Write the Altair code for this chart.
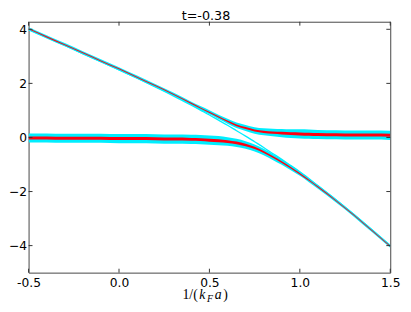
import altair as alt
import pandas as pd

# ---- data ----
x_vals = [-0.5, -0.4, -0.3, -0.2, -0.1, 0.0, 0.1, 0.2, 0.3, 0.4, 0.45, 0.5, 0.55, 0.6,
          0.65, 0.7, 0.75, 0.8, 0.85, 0.9, 0.95, 1.0, 1.05, 1.1, 1.2, 1.3, 1.4, 1.5]
diabatic = [4.00, 3.70, 3.40, 3.10, 2.80, 2.50, 2.19, 1.87, 1.54, 1.19, 1.01, 0.83, 0.64, 0.45,
            0.25, 0.05, -0.16, -0.37, -0.59, -0.81, -1.04, -1.27, -1.52, -1.78, -2.30, -2.85, -3.42, -4.00]
lower = [-0.02, -0.02, -0.03, -0.03, -0.03, -0.04, -0.04, -0.05, -0.06, -0.07, -0.08, -0.10, -0.12, -0.15,
         -0.20, -0.28, -0.39, -0.54, -0.72, -0.91, -1.12, -1.34, -1.58, -1.83, -2.34, -2.88, -3.45, -4.02]
upper = [4.02, 3.72, 3.43, 3.13, 2.83, 2.54, 2.23, 1.92, 1.60, 1.26, 1.09, 0.93, 0.76, 0.60,
         0.45, 0.35, 0.26, 0.21, 0.18, 0.16, 0.14, 0.13, 0.12, 0.11, 0.10, 0.09, 0.09, 0.08]
spread_lower = [0.17, 0.17, 0.17, 0.17, 0.17, 0.17, 0.17, 0.17, 0.17, 0.17, 0.17, 0.17, 0.17, 0.16,
                0.15, 0.14, 0.13, 0.12, 0.11, 0.10, 0.09, 0.08, 0.075, 0.07, 0.065, 0.06, 0.06, 0.06]
spread_upper = [0.06, 0.06, 0.06, 0.06, 0.06, 0.06, 0.06, 0.06, 0.06, 0.065, 0.07, 0.075, 0.08, 0.09,
                0.10, 0.11, 0.12, 0.13, 0.14, 0.15, 0.16, 0.17, 0.17, 0.17, 0.17, 0.17, 0.17, 0.17]
x_ticks = [-0.5, 0.0, 0.5, 1.0, 1.5]
y_ticks = [-4, -2, 0, 2, 4]
title_text = "t=-0.38"

rows = []
for i, xv in enumerate(x_vals):
    for name, e, s in (("lower", lower[i], spread_lower[i]), ("upper", upper[i], spread_upper[i])):
        rows.append(dict(x=xv, branch=name, e=e, lo=e - s, hi=e + s,
                         rlo=e - 0.32 * s, rhi=e + 0.32 * s))
df = pd.DataFrame(rows)
dia = pd.DataFrame({"x": x_vals, "e": diabatic})
xt = pd.DataFrame({"v": x_ticks})
yt = pd.DataFrame({"v": y_ticks})
one = pd.DataFrame({"k": [0]})

W, H = 369, 256
LEFT, TOP = 29, 19          # page position of the plot area
CYAN = "#00eeff"
RED = "#ff0010"
FONT = "DejaVu Sans"

xs = alt.Scale(domain=[-0.5, 1.5], nice=False, zero=False)
ys = alt.Scale(domain=[-5, 4.28], nice=False, zero=False)

xaxis = alt.Axis(values=x_ticks, ticks=False, domain=False, grid=False, title=None,
                 labelPadding=4, labelFontSize=12.5, labelFont=FONT, labelColor="black",
                 labelOverlap=False, labelFlush=False,
                 labelExpr="datum.value < 0 ? '-' + format(-datum.value, '.1f') : format(datum.value, '.1f')")
yaxis = alt.Axis(values=y_ticks, ticks=False, domain=False, grid=False, title=None,
                 labelPadding=2, labelFontSize=12.5, labelFont=FONT, labelColor="black",
                 labelOverlap=False,
                 labelExpr="datum.value < 0 ? '\u2212' + format(-datum.value, 'd') : format(datum.value, 'd')")

base = alt.Chart(df)
cyan_band = base.mark_area(color=CYAN, interpolate="monotone", clip=True).encode(
    x=alt.X("x:Q", scale=xs, axis=xaxis),
    y=alt.Y("lo:Q", scale=ys, axis=yaxis),
    y2="hi:Q",
    detail="branch:N",
)
dia_line = alt.Chart(dia).mark_line(color=CYAN, strokeWidth=1.3, interpolate="monotone", clip=True).encode(
    x=alt.X("x:Q", scale=xs), y=alt.Y("e:Q", scale=ys)
)
red_band = base.mark_area(color=RED, interpolate="monotone", clip=True).encode(
    x=alt.X("x:Q", scale=xs), y=alt.Y("rlo:Q", scale=ys), y2="rhi:Q", detail="branch:N"
)

tick_color = "#333333"
xt_bot = alt.Chart(xt).mark_rule(color=tick_color, strokeWidth=1).encode(
    x=alt.X("v:Q", scale=xs), y=alt.value(H), y2=alt.value(H - 4))
xt_top = alt.Chart(xt).mark_rule(color=tick_color, strokeWidth=1).encode(
    x=alt.X("v:Q", scale=xs), y=alt.value(0), y2=alt.value(4))
yt_left = alt.Chart(yt).mark_rule(color=tick_color, strokeWidth=1).encode(
    y=alt.Y("v:Q", scale=ys), x=alt.value(0), x2=alt.value(4))
yt_right = alt.Chart(yt).mark_rule(color=tick_color, strokeWidth=1).encode(
    y=alt.Y("v:Q", scale=ys), x=alt.value(W - 4), x2=alt.value(W))

SERIF = "Liberation Serif"
def piece(txt, page_x, page_y, size=14, style="normal", font=SERIF, align="left"):
    return alt.Chart(one).mark_text(text=txt, font=font, fontSize=size, fontStyle=style,
                                    align=align, baseline="alphabetic", color="black").encode(
        x=alt.value(page_x - LEFT), y=alt.value(page_y - TOP))

# x-axis label 1/(k_F a) built from pieces, and the title
LY = 301.5
label = (piece("1/(", 186.0, LY) + piece("k", 203.0, LY, style="italic")
         + piece("F", 211.0, LY + 3, size=10, style="italic")
         + piece("a", 219.0, LY, style="italic") + piece(")", 227.5, LY))
title = piece(title_text, 210, 17.5, size=13, font=FONT, align="center")

chart = alt.layer(cyan_band, dia_line, red_band, xt_bot, xt_top, yt_left, yt_right,
                  label, title).properties(
    width=W, height=H,
    autosize=alt.AutoSizeParams(type="none"),
    padding={"left": LEFT - 8, "top": TOP - 8, "right": 403 - (LEFT - 8) - W, "bottom": 30},
).configure_view(stroke="#444444", strokeWidth=1)

chart.save("out.html", embed_options={"renderer": "svg", "actions": False})
